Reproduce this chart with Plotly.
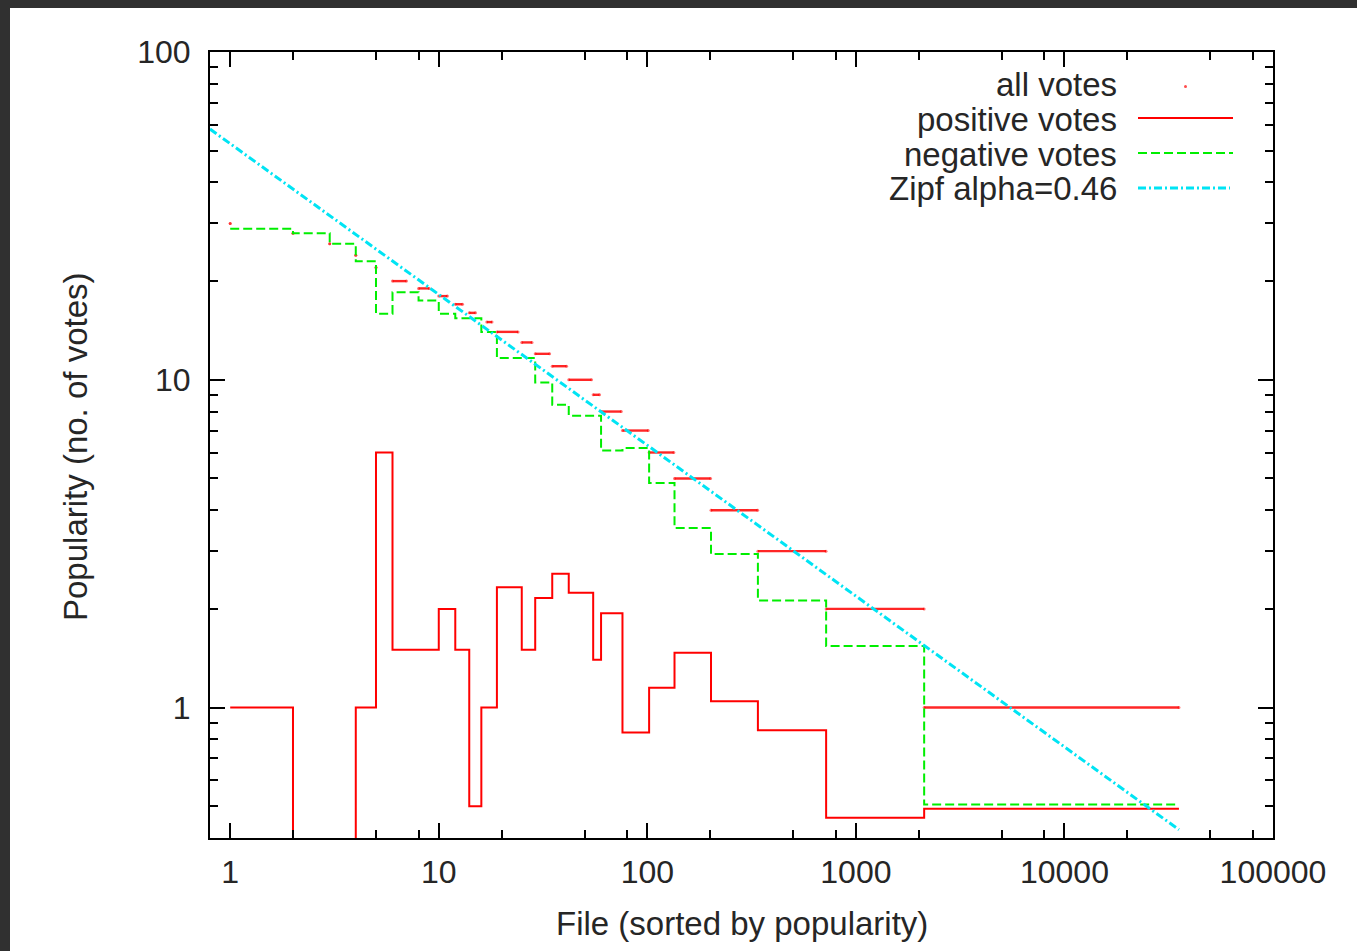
import numpy as np
import plotly.graph_objects as go

# ---------------- data ----------------
# "all votes": groups of files sharing the same number of votes
all_count = [30, 28, 26, 24, 22, 20, 19, 18, 17, 16, 15, 14, 13, 12, 11, 10, 9, 8, 7, 6, 5, 4, 3, 2, 1]
all_rank_first = [1, 2, 3, 4, 5, 6, 8, 10, 12, 14, 17, 19, 25, 29, 35, 42, 55, 60, 76, 102, 135, 202, 339, 720, 2125]
all_rank_last = [1, 2, 3, 4, 5, 7, 9, 11, 13, 15, 18, 24, 28, 34, 41, 54, 59, 75, 101, 134, 201, 338, 719, 2124, 35400]

# positive votes (step curve)
pos_x = [1, 2, 4, 5, 6, 10, 12, 14, 16, 19, 25, 29, 35, 42, 55, 60, 76, 102, 135, 202, 339, 720, 2125, 35400]
pos_y = [1.0, 0, 1.0, 6.0, 1.5, 2.0, 1.5, 0.5, 1.0, 2.33, 1.5, 2.16, 2.56, 2.24, 1.40, 1.94, 0.84, 1.15,
         1.47, 1.045, 0.853, 0.461, 0.491, 0.491]

# negative votes (step curve)
neg_x = [1, 2, 3, 4, 5, 6, 8, 10, 12, 16, 19, 29, 35, 42, 60, 76, 102, 135, 202, 339, 720, 2125, 35400]
neg_y = [28.9, 28.0, 26.0, 23.0, 15.9, 18.5, 17.45, 15.9, 15.4, 14.0, 11.65, 9.81, 8.39, 7.77, 6.08, 6.19,
         4.84, 3.53, 2.94, 2.12, 1.54, 0.506, 0.506]

# Zipf fit (alpha = 0.46) end points
zipf_x = [0.8, 35400]
zipf_y = [58.2, 0.424]

x_major = [1, 10, 100, 1000, 10000, 100000]
x_major_text = ["1", "10", "100", "1000", "10000", "100000"]
y_major = [1, 10, 100]
y_major_text = ["1", "10", "100"]

legend_labels = ["all votes", "positive votes", "negative votes", "Zipf alpha=0.46"]

# ---------------- layout helpers ----------------
W, H = 1357, 951
L, R, T, B = 210, 1273, 52, 838


def px(x):
    return (x - L) / (R - L)


def py(y):
    return (B - y) / (B - T)


RED = "#ff0000"
GREEN = "#00ee00"
CYAN = "#00e4f4"
FONT = "Liberation Sans, Arial, sans-serif"
TXT = "#262626"

fig = go.Figure()

# all votes
ax, ay = [], []
for c, f, l in zip(all_count, all_rank_first, all_rank_last):
    ax += [f, l, None]
    ay += [c, c, None]
fig.add_trace(go.Scatter(x=ax, y=ay, mode="lines+markers",
                         line=dict(color="rgba(255,0,0,0.85)", width=2.4),
                         marker=dict(color="rgba(255,0,0,0.55)", size=3),
                         name=legend_labels[0], showlegend=False))

# positive votes (0 falls below the log axis -> drawn down to the bottom edge)
pos_plot = np.where(np.array(pos_y) > 0, pos_y, 1e-3)
fig.add_trace(go.Scatter(x=pos_x, y=pos_plot, mode="lines", line=dict(color=RED, width=2, shape="hv"),
                         name=legend_labels[1], showlegend=False))

# negative votes
fig.add_trace(go.Scatter(x=neg_x, y=neg_y, mode="lines",
                         line=dict(color=GREEN, width=2, shape="hv", dash="9px,4px"),
                         name=legend_labels[2], showlegend=False))

# Zipf
fig.add_trace(go.Scatter(x=zipf_x, y=zipf_y, mode="lines",
                         line=dict(color=CYAN, width=3, dash="8px,3px,2px,3px"),
                         name=legend_labels[3], showlegend=False))

x_minor = [m * 10 ** d for d in range(0, 5) for m in (2, 5, 8)]
y_minor = [m * 10 ** d for d in range(-1, 2) for m in range(2, 10) if m * 10 ** d >= 0.4]

axis_common = dict(
    showline=True, linecolor="black", linewidth=2, mirror="allticks",
    ticks="inside", ticklen=15, tickwidth=1.5, tickcolor="black",
    showgrid=False, zeroline=False,
    tickfont=dict(family=FONT, size=32, color=TXT),
)

fig.update_xaxes(type="log", range=[np.log10(0.8), 5], tickmode="array",
                 tickvals=x_major, ticktext=x_major_text, ticklabelstandoff=5,
                 minor=dict(tickmode="array", tickvals=x_minor, ticks="inside", ticklen=8,
                            tickwidth=1.5, tickcolor="black", showgrid=False),
                 **axis_common)
fig.update_yaxes(type="log", range=[np.log10(0.4), 2], tickmode="array",
                 tickvals=y_major, ticktext=y_major_text, ticklabelstandoff=11,
                 minor=dict(tickmode="array", tickvals=y_minor, ticks="inside", ticklen=8,
                            tickwidth=1.5, tickcolor="black", showgrid=False),
                 **axis_common)

annotations = [
    dict(text="File (sorted by popularity)", x=px(742), y=py(923), xref="paper", yref="paper",
         showarrow=False, xanchor="center", yanchor="middle",
         font=dict(family=FONT, size=33, color=TXT)),
    dict(text="Popularity (no. of votes)", x=px(75), y=py(447), xref="paper", yref="paper",
         showarrow=False, xanchor="center", yanchor="middle", textangle=-90,
         font=dict(family=FONT, size=33, color=TXT)),
]
row_y = [84, 119, 154, 189]
for lab, yy in zip(legend_labels, row_y):
    annotations.append(dict(text=lab, x=px(1119), y=py(yy), xref="paper", yref="paper",
                            showarrow=False, xanchor="right", yanchor="middle",
                            font=dict(family=FONT, size=33, color=TXT)))

shapes = [
    # dark frame of the screenshot (top and left)
    dict(type="rect", xref="paper", yref="paper", x0=px(0), x1=px(W), y0=py(8), y1=py(0),
         fillcolor="#303030", line=dict(width=0), layer="above"),
    dict(type="rect", xref="paper", yref="paper", x0=px(0), x1=px(10), y0=py(H), y1=py(0),
         fillcolor="#303030", line=dict(width=0), layer="above"),
    # legend samples
    dict(type="circle", xref="paper", yref="paper", x0=px(1184), x1=px(1187), y0=py(88), y1=py(85),
         fillcolor="rgba(255,0,0,0.7)", line=dict(width=0)),
    dict(type="line", xref="paper", yref="paper", x0=px(1138), x1=px(1233), y0=py(118), y1=py(118),
         line=dict(color=RED, width=2)),
    dict(type="line", xref="paper", yref="paper", x0=px(1138), x1=px(1233), y0=py(153), y1=py(153),
         line=dict(color=GREEN, width=2, dash="9px,4px")),
    dict(type="line", xref="paper", yref="paper", x0=px(1138), x1=px(1230), y0=py(188), y1=py(188),
         line=dict(color=CYAN, width=3, dash="8px,3px,2px,3px")),
]

fig.update_layout(
    width=W, height=H,
    margin=dict(l=L, r=W - R, t=T, b=H - B, autoexpand=False),
    paper_bgcolor="white", plot_bgcolor="white",
    showlegend=False,
    annotations=annotations, shapes=shapes,
    font=dict(family=FONT, color=TXT),
)

fig.write_html("out.html", config={"displayModeBar": False},
               post_script="document.body.style.margin='0';")
